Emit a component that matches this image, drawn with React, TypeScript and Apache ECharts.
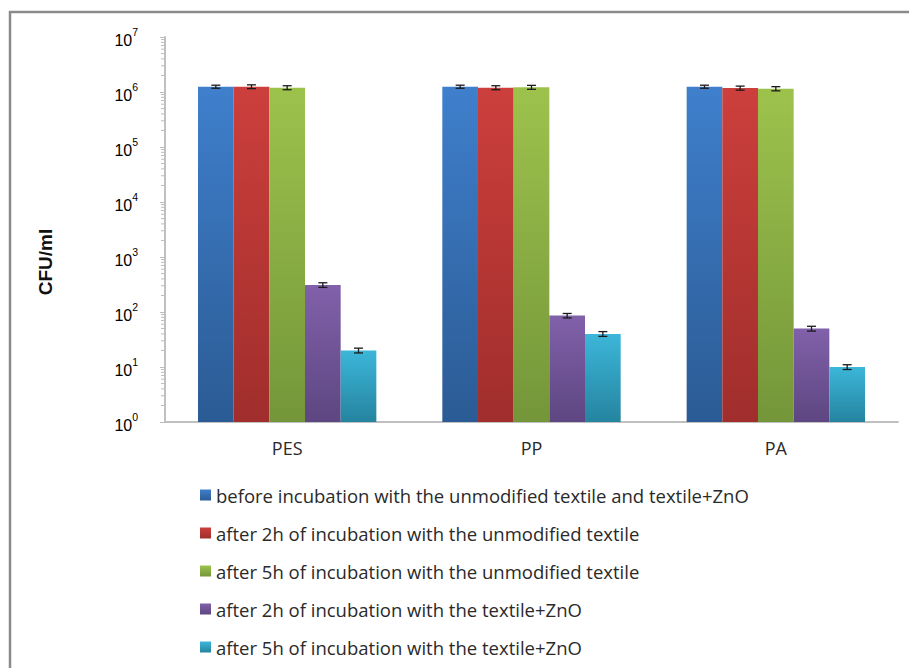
import React, { useEffect, useRef } from "react";
import * as echarts from "echarts";

const categories = ["PES", "PP", "PA"];
const seriesNames = [
  "before incubation with the unmodified textile and textile+ZnO",
  "after 2h of incubation with the unmodified textile",
  "after 5h of incubation with the unmodified textile",
  "after 2h of incubation with the textile+ZnO",
  "after 5h of incubation with the textile+ZnO",
];
const beforeIncubation = [1.25e6, 1.25e6, 1.25e6];
const after2hUnmodified = [1.25e6, 1.2e6, 1.18e6];
const after5hUnmodified = [1.2e6, 1.22e6, 1.15e6];
const after2hZnO = [310, 86, 50];
const after5hZnO = [20, 40, 10];

const errBefore = [0.08e6, 0.08e6, 0.08e6];
const err2hUnmodified = [0.1e6, 0.1e6, 0.1e6];
const err5hUnmodified = [0.1e6, 0.1e6, 0.1e6];
const err2hZnO = [30, 8, 5];
const err5hZnO = [2, 4, 1];

const minorMultipliers = [2, 3, 4, 5, 6, 7, 8, 9];
const decades = [1, 10, 100, 1000, 10000, 100000, 1000000];

const seriesValues = [beforeIncubation, after2hUnmodified, after5hUnmodified, after2hZnO, after5hZnO];
const seriesErrors = [errBefore, err2hUnmodified, err5hUnmodified, err2hZnO, err5hZnO];
const colorsTop = ["#3f7fcc", "#cc3f3c", "#9dc24c", "#8161aa", "#3cb6d9"];
const colorsBottom = ["#2b5b94", "#a02e2c", "#74963a", "#5d4681", "#25849f"];

const CAT_GAP = 0.27;

export default function App() {
  const ref = useRef<HTMLDivElement>(null);
  useEffect(() => {
    if (!ref.current) return;
    const chart = echarts.init(ref.current, null, { renderer: "svg" });

    const barSeries = seriesNames.map((name, i) => ({
      name,
      type: "bar",
      data: seriesValues[i],
      barGap: "0%",
      barCategoryGap: "27%",
      itemStyle: {
        color: new echarts.graphic.LinearGradient(0, 0, 0, 1, [
          { offset: 0, color: colorsTop[i] },
          { offset: 1, color: colorsBottom[i] },
        ]),
      },
      z: 2,
    }));

    const errSeries = seriesNames.map((name, i) => ({
      type: "custom",
      name: "err" + i,
      silent: true,
      z: 5,
      data: categories.map((_, c) => [c, seriesValues[i][c], seriesErrors[i][c]]),
      renderItem: (params: any, api: any) => {
        const ci = api.value(0);
        const v = api.value(1);
        const e = api.value(2);
        const band = api.size([1, 0])[0];
        const groupW = band * (1 - CAT_GAP);
        const bw = groupW / 5;
        const cx = api.coord([ci, v])[0] - groupW / 2 + (i + 0.5) * bw;
        const yHi = api.coord([ci, v + e])[1];
        const yLo = api.coord([ci, v - e])[1];
        const cap = 4.5;
        const st = { stroke: "#1a1a1a", lineWidth: 1.3 };
        return {
          type: "group",
          children: [
            { type: "line", shape: { x1: cx, y1: yHi, x2: cx, y2: yLo }, style: st },
            { type: "line", shape: { x1: cx - cap, y1: yHi, x2: cx + cap, y2: yHi }, style: st },
            { type: "line", shape: { x1: cx - cap, y1: yLo, x2: cx + cap, y2: yLo }, style: st },
          ],
        };
      },
    }));

    const minorData: number[][] = [];
    decades.forEach((d) => minorMultipliers.forEach((m) => minorData.push([0, m * d])));

    const minorTickSeries = {
      type: "custom",
      name: "minorTicks",
      silent: true,
      clip: false,
      z: 3,
      data: minorData,
      renderItem: (params: any, api: any) => {
        const x0 = params.coordSys.x;
        const y = api.coord([0, api.value(1)])[1];
        return {
          type: "line",
          shape: { x1: x0 - 4, y1: y, x2: x0, y2: y },
          style: { stroke: "#bdbdbd", lineWidth: 1 },
        };
      },
    };

    const option: any = {
      animation: false,
      backgroundColor: "#ffffff",
      grid: { left: 165, top: 37, right: 11, bottom: 246, containLabel: false },
      legend: {
        data: seriesNames,
        orient: "vertical",
        left: 195,
        top: 479,
        icon: "rect",
        itemWidth: 11,
        itemHeight: 11,
        itemGap: 16,
        textStyle: { fontFamily: "Open Sans", fontSize: 18.5, color: "#2a2a2a", lineHeight: 22 },
      },
      xAxis: {
        type: "category",
        data: categories,
        axisLine: { show: true, lineStyle: { color: "#c0c0c0", width: 2 } },
        axisTick: { show: false },
        axisLabel: { fontFamily: "Open Sans", fontSize: 18, color: "#2a2a2a", margin: 17 },
        splitLine: { show: false },
      },
      yAxis: {
        type: "log",
        logBase: 10,
        min: 1,
        max: 1e7,
        interval: 1,
        axisLine: { show: true, lineStyle: { color: "#c0c0c0", width: 2 } },
        axisTick: { show: true, length: 5, lineStyle: { color: "#bdbdbd" } },
        splitLine: { show: false },
        axisLabel: {
          margin: 27,
          formatter: (v: number) => `{b|10}{s|${Math.round(Math.log10(v))}}`,
          rich: {
            b: { fontFamily: "Liberation Sans", fontSize: 16, color: "#000", verticalAlign: "bottom", lineHeight: 22 },
            s: { fontFamily: "Liberation Sans", fontSize: 10.5, color: "#000", verticalAlign: "top", lineHeight: 22 },
          },
        },
      },
      graphic: [
        {
          type: "rect",
          z: -10,
          silent: true,
          shape: { x: 10, y: 12, width: 1000, height: 1000 },
          style: { fill: "none", stroke: "#8a8a8a", lineWidth: 2.5 },
        },
        {
          type: "text",
          x: 45,
          y: 262,
          rotation: Math.PI / 2,
          style: {
            text: "CFU/ml",
            fontFamily: "Liberation Sans",
            fontWeight: "bold",
            fontSize: 19,
            fill: "#111",
            align: "center",
            verticalAlign: "middle",
          },
        },
      ],
      series: [...barSeries, ...errSeries, minorTickSeries],
    };
    chart.setOption(option);
    return () => chart.dispose();
  }, []);

  return (
    <div
      ref={ref}
      style={{ position: "fixed", left: 0, top: 0, width: 909, height: 668 }}
    />
  );
}
